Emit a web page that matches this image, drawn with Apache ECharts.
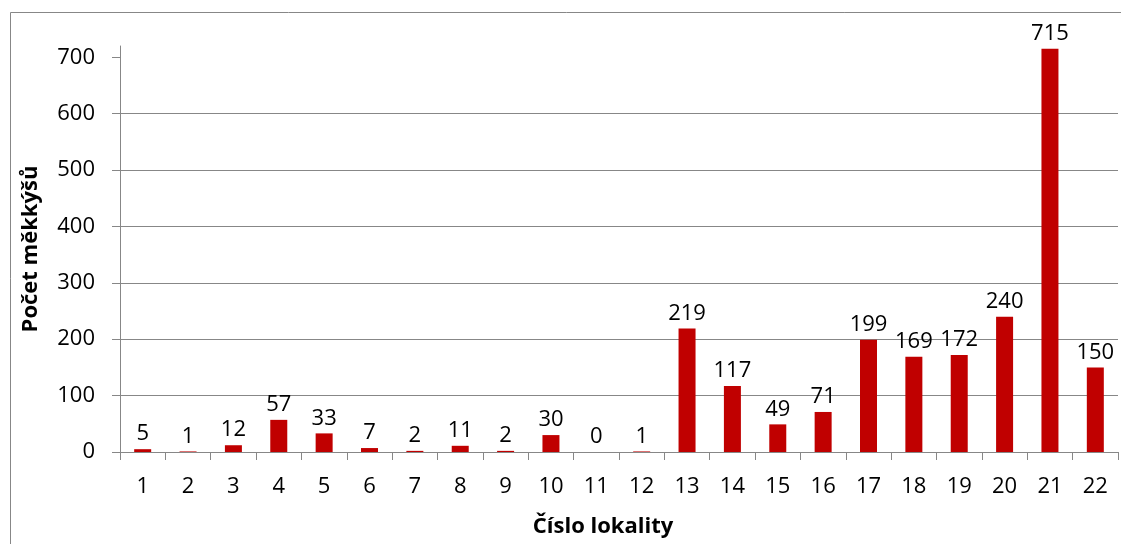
<!DOCTYPE html>
<html>
<head>
<meta charset="utf-8">
<script src="https://cdn.jsdelivr.net/npm/echarts@6/dist/echarts.min.js"></script>
<style>
html,body{margin:0;padding:0;background:#fff;}
#chart{width:1121px;height:544px;}
</style>
</head>
<body>
<div id="chart"></div>
<script>
const categories = ['1','2','3','4','5','6','7','8','9','10','11','12','13','14','15','16','17','18','19','20','21','22'];
const values = [5,1,12,57,33,7,2,11,2,30,0,1,219,117,49,71,199,169,172,240,715,150];
const yTicks = [0,100,200,300,400,500,600,700];
const xTitle = 'Číslo lokality';
const yTitle = 'Počet měkkýšů';

const FONT = '"Open Sans", sans-serif';
const GRAY = '#878787';
const chart = echarts.init(document.getElementById('chart'), null, {renderer:'canvas'});
chart.setOption({
  animation: false,
  backgroundColor: '#ffffff',
  textStyle: {fontFamily: FONT},
  graphic: [{
    type: 'rect', left: 8, top: 10, silent: true,
    shape: {x: 0, y: 0, width: 1200, height: 600},
    style: {fill: 'none', stroke: GRAY, lineWidth: 1}
  }],
  grid: {left: 120, right: 3, top: 46, bottom: 92, containLabel: false},
  xAxis: {
    type: 'category',
    data: categories,
    boundaryGap: true,
    axisLine: {show: true, lineStyle: {color: GRAY, width: 1}},
    axisTick: {show: true, length: 8, alignWithLabel: false, lineStyle: {color: GRAY}},
    axisLabel: {color: '#000', fontSize: 22, fontFamily: FONT, margin: 24, interval: 0},
    name: xTitle,
    nameLocation: 'middle',
    nameGap: 64,
    nameTextStyle: {color: '#000', fontSize: 22, fontWeight: 'bold', fontFamily: FONT, padding: [0, 32, 0, 0]}
  },
  yAxis: {
    type: 'value',
    min: 0,
    max: 720,
    interval: 100,
    axisLine: {show: true, lineStyle: {color: GRAY, width: 1}},
    axisTick: {show: true, length: 8, customValues: yTicks, lineStyle: {color: GRAY}},
    axisLabel: {color: '#000', fontSize: 22, fontFamily: FONT, margin: 25, customValues: yTicks},
    splitLine: {show: true, showMinLine: false, showMaxLine: false, lineStyle: {color: GRAY, width: 1}},
    name: yTitle,
    nameLocation: 'middle',
    nameGap: 78,
    nameRotate: 90,
    nameTextStyle: {color: '#000', fontSize: 22, fontWeight: 'bold', fontFamily: FONT}
  },
  series: [{
    type: 'bar',
    data: values,
    barWidth: 17,
    itemStyle: {color: '#C00000'},
    label: {show: true, position: 'top', distance: 4, color: '#000', fontSize: 22, fontFamily: FONT}
  }]
});
</script>
</body>
</html>
